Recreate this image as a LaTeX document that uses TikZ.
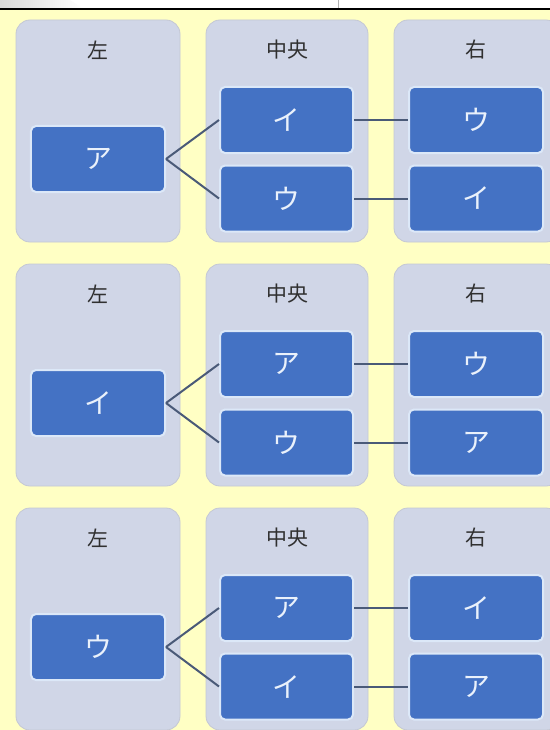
\documentclass[tikz,border=0pt]{standalone}
\usepackage{fontspec}
\newfontfamily\jp{Noto Sans CJK JP}
\definecolor{bgyellow}{HTML}{FFFFC4}
\definecolor{panel}{HTML}{D0D6E7}
\definecolor{paneledge}{HTML}{C4C8D4}
\definecolor{boxblue}{HTML}{4472C4}
\definecolor{boxedge}{HTML}{DCE8F8}
\definecolor{linkc}{HTML}{4A5A78}
\definecolor{titlec}{HTML}{303030}
\definecolor{labelc}{HTML}{EAF1FB}
\tikzset{
  panelbox/.style={fill=panel,draw=paneledge,line width=0.8bp,rounded corners=14bp},
  itembox/.style={fill=boxblue,draw=boxedge,line width=2bp,rounded corners=5bp,
    minimum width=134bp,minimum height=66bp,inner sep=0pt,
    font=\jp\fontsize{28}{28}\selectfont,text=labelc},
  paneltitle/.style={font=\jp\fontsize{21}{21}\selectfont,text=titlec,inner sep=0pt},
  link/.style={draw=linkc,line width=2bp}
}
\begin{document}
\begin{tikzpicture}[x=1bp,y=-1bp]
\useasboundingbox (0,0) rectangle (550,730);
\clip (0,0) rectangle (550,730);
\fill[bgyellow] (0,0) rectangle (550,730);
% top browser strip
\fill[white] (0,0) rectangle (550,9);
\shade[left color=gray!30,right color=white] (0,0) -- (70,0) -- (84,9) -- (0,9) -- cycle;
\draw[gray!60,line width=0.6bp] (338,0) -- (338,8);
\fill[black] (0,8) rectangle (550,10.5);
\foreach \r/\a/\b/\c/\d/\e in {0/ア/イ/ウ/ウ/イ, 1/イ/ア/ウ/ウ/ア, 2/ウ/ア/イ/イ/ア}{
  \pgfmathsetmacro{\oy}{20+244*\r}
  \begin{scope}[yshift={-\oy bp}]
    \draw[panelbox] (16,0) rectangle (180,222);
    \draw[panelbox] (206,0) rectangle (368,222);
    \draw[panelbox] (394,0) rectangle (560,222);
    \node[paneltitle] (TL\r) at (98,30) {左};
    \node[paneltitle] (TM\r) at (287,30) {中央};
    \node[paneltitle] (TR\r) at (476,30) {右};
    \node[itembox] (L\r) at (98,139) {\a};
    \node[itembox,minimum width=133bp] (MA\r) at (286.5,100) {\b};
    \node[itembox,minimum width=133bp] (MB\r) at (286.5,178.5) {\c};
    \node[itembox] (RA\r) at (476,100) {\d};
    \node[itembox] (RB\r) at (476,178.5) {\e};
    \draw[link] (L\r.east) -- (MA\r.west);
    \draw[link] (L\r.east) -- (MB\r.west);
    \draw[link] (MA\r.east) -- (RA\r.west);
    \draw[link] (MB\r.east) -- (RB\r.west);
  \end{scope}
}
\end{tikzpicture}
\end{document}
